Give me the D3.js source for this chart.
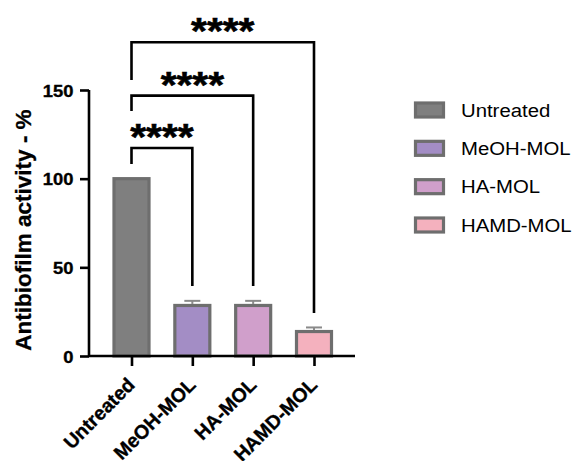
<!DOCTYPE html>
<html><head><meta charset="utf-8">
<script src="https://cdn.jsdelivr.net/npm/d3@7"></script>
<style>
html,body{margin:0;padding:0;background:#fff;}
svg{display:block;font-family:"Liberation Sans",Arial,Helvetica,sans-serif;}
</style></head>
<body>
<svg id="chart" width="577" height="461"></svg>
<script>
// ---- data ----
const categories = ["Untreated", "MeOH-MOL", "HA-MOL", "HAMD-MOL"];
const values = [100, 28.5, 28.5, 13.8];
const errors = [0, 2.6, 2.6, 2.3];
const colors = ["#7f7f7f", "#a38dc5", "#d09fcb", "#f4b1be"];
const yTicks = [0, 50, 100, 150];
const yLabel = "Antibiofilm activity - %";
// significance comparisons: from index, to index, bracket level, left leg end, right leg end, label
const compFrom = [0, 0, 0];
const compTo = [1, 2, 3];
const compLevel = [117.3, 146.8, 176.9];
const compLeftEnd = [108.3, 138.2, 155.6];
const compRightEnd = [39.5, 39.5, 24.2];
const compLabel = ["****", "****", "****"];

const svg = d3.select("#chart");
const y = d3.scaleLinear().domain([0, 150]).range([356, 90]);
const x = d3.scalePoint().domain(categories).range([131.5, 314]);
const barW = 35;
const axisX = 89, axisEnd = 355;

// bars
svg.append("g").selectAll("rect").data(categories).join("rect")
  .attr("x", d => x(d) - barW / 2)
  .attr("y", (d, i) => y(values[i]))
  .attr("width", barW)
  .attr("height", (d, i) => y(0) - y(values[i]))
  .attr("fill", (d, i) => colors[i])
  .attr("stroke", "#6e6e6e")
  .attr("stroke-width", 3.2);

// error bars
const eb = svg.append("g").attr("stroke", "#8a8a8a").attr("stroke-width", 2);
categories.forEach((c, i) => {
  if (!errors[i]) return;
  eb.append("line").attr("x1", x(c)).attr("x2", x(c))
    .attr("y1", y(values[i]) - 1.5).attr("y2", y(values[i] + errors[i]));
  eb.append("line").attr("x1", x(c) - 8).attr("x2", x(c) + 8)
    .attr("y1", y(values[i] + errors[i])).attr("y2", y(values[i] + errors[i]));
});

// axes
const yAxis = svg.append("g").attr("transform", `translate(${axisX},0)`)
  .call(d3.axisLeft(y).tickValues(yTicks).tickSize(9).tickPadding(4).tickFormat(d3.format("d")));
yAxis.select(".domain").attr("d", `M0,${y(150)}V${y(0)}`).attr("stroke", "#000").attr("stroke-width", 2.6);
yAxis.selectAll(".tick line").attr("stroke", "#000").attr("stroke-width", 2.6);
yAxis.selectAll(".tick text")
  .attr("font-size", 17).attr("font-weight", "bold").attr("fill", "#000")
  .attr("stroke", "#000").attr("stroke-width", 0.35)
  .attr("font-family", "Liberation Sans, Arial, sans-serif")
  .each(function() {
    const t = d3.select(this);
    t.attr("x", null).attr("dy", null)
     .attr("transform", `translate(-15.5,6) scale(1.08,1)`);
  });

const xAxis = svg.append("g").attr("transform", `translate(0,${y(0)})`)
  .call(d3.axisBottom(x).tickSize(10).tickFormat(""));
xAxis.select(".domain").attr("d", `M${axisX},0H${axisEnd}`).attr("stroke", "#000").attr("stroke-width", 2.6);
xAxis.selectAll(".tick line").attr("stroke", "#000").attr("stroke-width", 2.6);

// x labels
svg.append("g").selectAll("text").data(categories).join("text")
  .attr("transform", d => `translate(${x(d) + 4.5},386) rotate(-45)`)
  .attr("text-anchor", "end")
  .attr("font-size", 19.5).attr("font-weight", "bold").attr("fill", "#000")
  .attr("stroke", "#000").attr("stroke-width", 0.35)
  .text(d => d);

// y label
svg.append("text")
  .attr("transform", "translate(31,230) rotate(-90)")
  .attr("text-anchor", "middle")
  .attr("font-size", 22.5).attr("font-weight", "bold").attr("fill", "#000")
  .attr("stroke", "#000").attr("stroke-width", 0.3)
  .text(yLabel);

// significance brackets
const br = svg.append("g");
compFrom.forEach((f, k) => {
  const x1 = x(categories[f]), x2 = x(categories[compTo[k]]);
  const yl = y(compLevel[k]);
  br.append("path")
    .attr("d", `M${x1},${y(compLeftEnd[k])}V${yl}H${x2}V${y(compRightEnd[k])}`)
    .attr("fill", "none").attr("stroke", "#000").attr("stroke-width", 2.6);
  br.append("text")
    .attr("transform", `translate(${(x1 + x2) / 2},${yl + 2}) scale(1.1,1)`)
    .attr("text-anchor", "middle")
    .attr("font-size", 37).attr("font-weight", "bold").attr("fill", "#000")
    .attr("stroke", "#000").attr("stroke-width", 0.6)
    .text(compLabel[k]);
});

// legend
const legY = d3.scalePoint().domain(categories).range([110, 225]);
const lg = svg.append("g");
categories.forEach((c, i) => {
  lg.append("rect")
    .attr("x", 415.5).attr("y", legY(c) - 7)
    .attr("width", 28).attr("height", 14)
    .attr("fill", colors[i]).attr("stroke", "#6e6e6e").attr("stroke-width", 3.2);
  lg.append("text")
    .attr("transform", `translate(461,${legY(c) + 6.5}) scale(1.13,1)`)
    .attr("font-size", 18).attr("fill", "#000")
    .text(c);
});
</script>
</body></html>
